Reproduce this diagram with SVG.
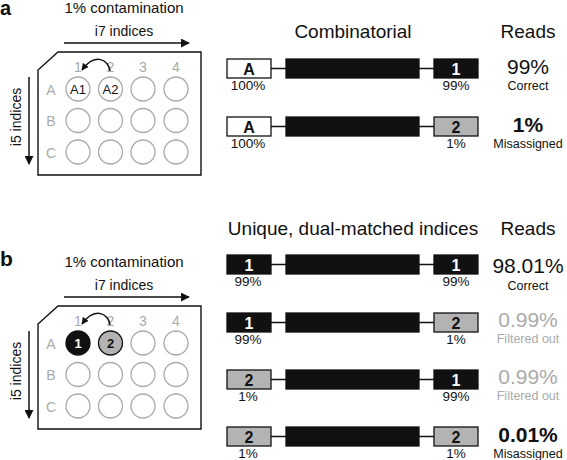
<svg xmlns="http://www.w3.org/2000/svg" width="567" height="460" viewBox="0 0 567 460">
<defs>
<style>
text{font-family:"Liberation Sans",Arial,sans-serif;fill:#111}
.h{font-size:19px;text-anchor:middle}
.t15{font-size:15px;text-anchor:middle}
.t14{font-size:14px;text-anchor:middle}
.g{fill:#aaa}
.lbl{font-size:14px;text-anchor:middle;fill:#aaa}
.plate{fill:#fff;stroke:#111;stroke-width:1.4}
.well{fill:#fff;stroke:#aaa;stroke-width:1.3}
.ax{stroke:#111;stroke-width:1.5;fill:none}
.wb{fill:#fff;stroke:#111;stroke-width:1.3}
.bb{fill:#111;stroke:#111;stroke-width:1.3}
.gb{fill:#b3b3b3;stroke:#111;stroke-width:1.3}
.ln{stroke:#111;stroke-width:1.3}
.bx{font-size:16px;font-weight:bold;text-anchor:middle}
.wt{fill:#fff}
.pc{font-size:13.5px;text-anchor:middle}
.rv{font-size:21px;text-anchor:middle}
.rs{font-size:12.5px;text-anchor:middle}
.b{font-weight:bold}
</style>
<marker id="ah" viewBox="0 0 10 10" refX="9" refY="5" markerWidth="7" markerHeight="7" markerUnits="userSpaceOnUse" orient="auto"><path d="M0,0 L10,5 L0,10 z" fill="#111"/></marker>
<marker id="ah2" viewBox="0 0 10 10" refX="9" refY="5" markerWidth="9" markerHeight="9" markerUnits="userSpaceOnUse" orient="auto"><path d="M0,0 L10,5 L0,10 z" fill="#111"/></marker>
<g id="plate">
<polygon class="plate" points="58,52 201,52 201,175 38,175 38,70"/>
<text class="lbl" x="78" y="72">1</text><text class="lbl" x="110.5" y="72">2</text><text class="lbl" x="143" y="72">3</text><text class="lbl" x="176" y="72">4</text>
<text class="lbl" x="51" y="95">A</text><text class="lbl" x="51" y="126">B</text><text class="lbl" x="51" y="158">C</text>
<circle class="well" cx="143" cy="89" r="12"/><circle class="well" cx="176" cy="89" r="12"/>
<circle class="well" cx="78" cy="120.5" r="12"/><circle class="well" cx="110.5" cy="120.5" r="12"/><circle class="well" cx="143" cy="120.5" r="12"/><circle class="well" cx="176" cy="120.5" r="12"/>
<circle class="well" cx="78" cy="152" r="12"/><circle class="well" cx="110.5" cy="152" r="12"/><circle class="well" cx="143" cy="152" r="12"/><circle class="well" cx="176" cy="152" r="12"/>
<text class="t15" x="124" y="12.5">1% contamination</text>
<text class="t14" x="124" y="35.5">i7 indices</text>
<line class="ax" x1="64" y1="43" x2="189" y2="43" marker-end="url(#ah2)"/>
<line class="ax" x1="29" y1="77" x2="29" y2="164" marker-end="url(#ah2)"/>
<text class="t14" transform="translate(21,117) rotate(-90)">i5 indices</text>
<path class="ax" d="M110,71 C109,60 95,52 82,70" marker-end="url(#ah)"/>
</g>
</defs>

<g id="panel-a">
<text x="0" y="15" style="font-size:20px;font-weight:bold">a</text>
<use href="#plate"/>
<g id="a-wells">
<circle class="well" cx="78" cy="89" r="12"/><text x="78" y="94" style="font-size:13px;text-anchor:middle">A1</text>
<circle class="well" cx="110.5" cy="89" r="12"/><text x="110.5" y="94" style="font-size:13px;text-anchor:middle">A2</text>
</g>
<text class="h" x="353" y="38">Combinatorial</text>
<text class="h" x="528" y="38">Reads</text>
</g>

<g id="connectors">
<line class="ln" x1="271" y1="68.5" x2="434" y2="68.5"/>
<line class="ln" x1="271" y1="126.5" x2="434" y2="126.5"/>
<line class="ln" x1="271" y1="264.5" x2="434" y2="264.5"/>
<line class="ln" x1="271" y1="322.5" x2="434" y2="322.5"/>
<line class="ln" x1="271" y1="379.5" x2="434" y2="379.5"/>
<line class="ln" x1="271" y1="436.5" x2="434" y2="436.5"/>
</g>

<g id="a-row1">
<rect class="wb" x="227" y="59" width="44" height="19"/><text class="bx" x="249" y="75">A</text>
<rect class="bb" x="286" y="59" width="133" height="19"/>
<rect class="bb" x="434" y="59" width="44" height="19"/><text class="bx wt" x="456" y="75">1</text>
<text class="pc" x="248" y="90">100%</text><text class="pc" x="456" y="90">99%</text>
<text class="rv" x="528" y="74">99%</text><text class="rs" x="528" y="90">Correct</text>
</g>
<g id="a-row2">
<rect class="wb" x="227" y="117" width="44" height="19"/><text class="bx" x="249" y="133">A</text>
<rect class="bb" x="286" y="117" width="133" height="19"/>
<rect class="gb" x="434" y="117" width="44" height="19"/><text class="bx" x="456" y="133">2</text>
<text class="pc" x="248" y="148">100%</text><text class="pc" x="456" y="148">1%</text>
<text class="rv b" x="528" y="132">1%</text><text class="rs" x="528" y="148">Misassigned</text>
</g>

<g id="panel-b">
<text x="0" y="266" style="font-size:21px;font-weight:bold">b</text>
<use href="#plate" transform="translate(0,254)"/>
<g id="b-wells">
<circle cx="78" cy="343" r="12" fill="#111" stroke="#111" stroke-width="1.3"/><text x="78" y="348" style="font-size:13px;text-anchor:middle;font-weight:bold;fill:#fff">1</text>
<circle cx="110.5" cy="343" r="12" fill="#b3b3b3" stroke="#111" stroke-width="1.3"/><text x="110.5" y="348" style="font-size:13px;text-anchor:middle;font-weight:bold">2</text>
</g>
<text class="h" x="353" y="235">Unique, dual-matched indices</text>
<text class="h" x="528" y="235">Reads</text>
</g>

<g id="b-row1">
<rect class="bb" x="227" y="255" width="44" height="19"/><text class="bx wt" x="249" y="271">1</text>
<rect class="bb" x="286" y="255" width="133" height="19"/>
<rect class="bb" x="434" y="255" width="44" height="19"/><text class="bx wt" x="456" y="271">1</text>
<text class="pc" x="248" y="286">99%</text><text class="pc" x="456" y="286">99%</text>
<text class="rv" x="528" y="273">98.01%</text><text class="rs" x="528" y="290">Correct</text>
</g>
<g id="b-row2">
<rect class="bb" x="227" y="313" width="44" height="19"/><text class="bx wt" x="249" y="329">1</text>
<rect class="bb" x="286" y="313" width="133" height="19"/>
<rect class="gb" x="434" y="313" width="44" height="19"/><text class="bx" x="456" y="329">2</text>
<text class="pc" x="248" y="344">99%</text><text class="pc" x="456" y="344">1%</text>
<text class="rv g" x="528" y="327">0.99%</text><text class="rs g" x="528" y="343">Filtered out</text>
</g>
<g id="b-row3">
<rect class="gb" x="227" y="370" width="44" height="19"/><text class="bx" x="249" y="386">2</text>
<rect class="bb" x="286" y="370" width="133" height="19"/>
<rect class="bb" x="434" y="370" width="44" height="19"/><text class="bx wt" x="456" y="386">1</text>
<text class="pc" x="248" y="401">1%</text><text class="pc" x="456" y="401">99%</text>
<text class="rv g" x="528" y="384">0.99%</text><text class="rs g" x="528" y="400">Filtered out</text>
</g>
<g id="b-row4">
<rect class="gb" x="227" y="427" width="44" height="19"/><text class="bx" x="249" y="443">2</text>
<rect class="bb" x="286" y="427" width="133" height="19"/>
<rect class="gb" x="434" y="427" width="44" height="19"/><text class="bx" x="456" y="443">2</text>
<text class="pc" x="248" y="458">1%</text><text class="pc" x="456" y="458">1%</text>
<text class="rv b" x="528" y="442">0.01%</text><text class="rs" x="528" y="458">Misassigned</text>
</g>
</svg>
